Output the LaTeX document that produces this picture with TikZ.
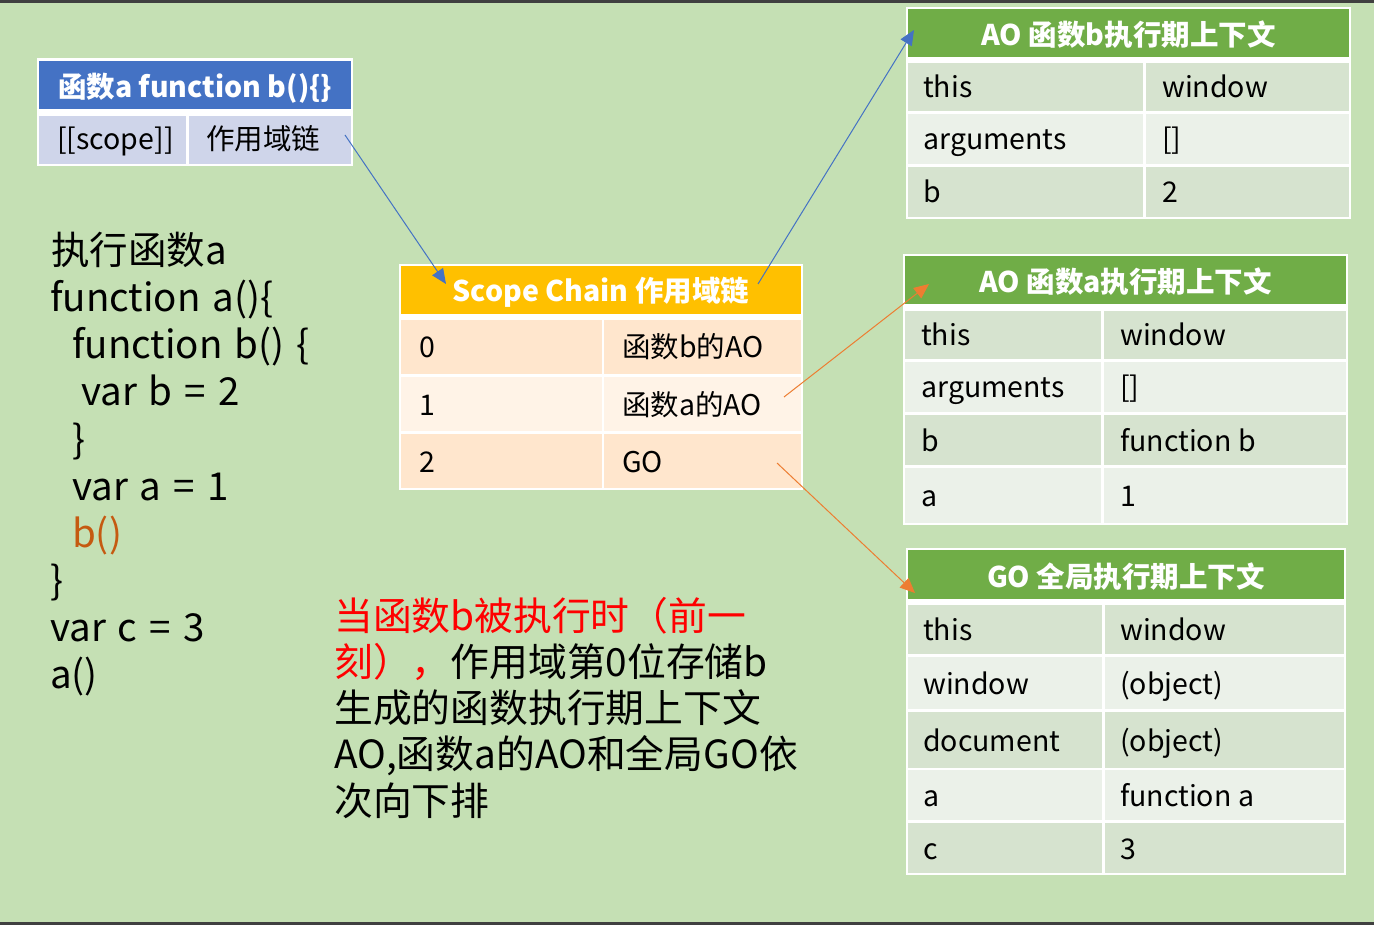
\documentclass[tikz,border=0pt]{standalone}
\usepackage{fontspec}
\setmainfont{Noto Sans CJK SC}
\usetikzlibrary{arrows.meta}
\definecolor{bg}{HTML}{C5E0B4}
\definecolor{frame}{HTML}{404040}
\definecolor{hdrblue}{HTML}{4472C4}
\definecolor{rowblue}{HTML}{CFD5EA}
\definecolor{hdryel}{HTML}{FFC000}
\definecolor{yd}{HTML}{FFE6CD}
\definecolor{yl}{HTML}{FFF3E7}
\definecolor{hdrgreen}{HTML}{70AD47}
\definecolor{gd}{HTML}{D6E3CF}
\definecolor{gl}{HTML}{EBF1E9}
\definecolor{arrblue}{HTML}{4472C4}
\definecolor{arrorange}{HTML}{ED7D31}
\definecolor{codeorange}{HTML}{C55A11}
\newcommand\mycell[6]{\node[cellbox,fill=#6,minimum width={(#4-#2)*1pt},minimum height={(#5-#3)*1pt},anchor=north west] (#1) at (#2,#3) {};}
\newcommand\trow[6]{%
  \mycell{#1a}{\xa}{#2}{\xb}{#3}{#4}
  \mycell{#1b}{\xc}{#2}{\xd}{#3}{#4}
  \node[ctext,anchor=base west] (#1at) at ([xshift=\padA,yshift=-11pt]#1a.west) {#5};
  \node[ctext,anchor=base west] (#1bt) at ([xshift=\padB,yshift=-11pt]#1b.west) {#6};}
\tikzset{
  cellbox/.style={rectangle,inner sep=0pt,outer sep=0pt,draw=none},
  ctext/.style={inner sep=0pt,font=\fontsize{28.5}{34}\selectfont,text=black},
  head/.style={inner sep=0pt,font=\fontsize{28.5}{34}\selectfont\bfseries,text=white},
  code/.style={inner sep=0pt,font={\fontsize{38.5}{47}\selectfont\spaceskip=12pt plus 2pt\relax},text=black,anchor=base west},
  para/.style={inner sep=0pt,font=\fontsize{38.8}{47}\selectfont,text=black,anchor=base west},
  conn/.style={line width=1pt},
  blueconn/.style={conn,draw=arrblue,-{Triangle[length=15pt,width=13pt,fill=arrblue]}},
  orangeconn/.style={conn,draw=arrorange,-{Triangle[length=15pt,width=13pt,fill=arrorange]}}
}
\begin{document}
\begin{tikzpicture}[x=1pt,y=-1pt]
\useasboundingbox (0,0) rectangle (1374,925);
\fill[bg] (0,0) rectangle (1374,925);
\fill[frame] (0,0) rectangle (1374,3);
\fill[frame] (0,922) rectangle (1374,925);

% ---- table 1 : function a [[scope]]
\mycell{t1}{37}{58}{353}{166}{white}
\mycell{t1h}{39}{61}{351}{109}{hdrblue}
\node[head,anchor=base west] (t1ht) at ([xshift=19pt,yshift=-13pt]t1h.west) {函数a function b()\{\}};
\mycell{t1a}{39}{116}{186}{164}{rowblue}
\mycell{t1b}{189}{116}{351}{164}{rowblue}
\node[ctext,anchor=base west] (t1at) at ([xshift=18pt,yshift=-10pt]t1a.west) {[[scope]]};
\node[ctext,anchor=base west] (t1bt) at ([xshift=17pt,yshift=-10pt]t1b.west) {作用域链};

% ---- table 2 : scope chain
\mycell{t2}{399}{264}{803}{490}{white}
\mycell{t2h}{401}{266}{801}{314}{hdryel}
\node[head,anchor=base] (t2ht) at ([yshift=-12pt]t2h.center) {Scope Chain 作用域链};
\def\xa{401}\def\xb{602}\def\xc{604}\def\xd{801}
\def\padA{18pt}\def\padB{18pt}
\trow{t2r0}{320}{374}{yd}{0}{函数b的AO}
\trow{t2r1}{377}{431}{yl}{1}{函数a的AO}
\trow{t2r2}{434}{488}{yd}{2}{GO}

% ---- table 3 : AO b
\mycell{t3}{906}{7}{1351}{219}{white}
\mycell{t3h}{908}{9}{1349}{57}{hdrgreen}
\node[head,anchor=base] (t3ht) at ([yshift=-13pt]t3h.center) {AO 函数b执行期上下文};
\def\xa{908}\def\xb{1143}\def\xc{1146}\def\xd{1349}
\def\padA{15pt}\def\padB{16pt}
\trow{t3r0}{63}{111}{gd}{this}{window}
\trow{t3r1}{114}{164}{gl}{arguments}{[]}
\trow{t3r2}{167}{217}{gd}{b}{2}

% ---- table 4 : AO a
\mycell{t4}{903}{254}{1348}{525}{white}
\mycell{t4h}{905}{256}{1346}{304}{hdrgreen}
\node[head,anchor=base] (t4ht) at ([yshift=-13pt]t4h.center) {AO 函数a执行期上下文};
\def\xa{905}\def\xb{1101}\def\xc{1104}\def\xd{1346}
\def\padA{16pt}\def\padB{16pt}
\trow{t4r0}{311}{359}{gd}{this}{window}
\trow{t4r1}{362}{412}{gl}{arguments}{[]}
\trow{t4r2}{415}{465}{gd}{b}{function b}
\trow{t4r3}{468}{523}{gl}{a}{1}

% ---- table 5 : GO
\mycell{t5}{906}{548}{1346}{875}{white}
\mycell{t5h}{908}{550}{1344}{599}{hdrgreen}
\node[head,anchor=base] (t5ht) at ([yshift=-13pt]t5h.center) {GO 全局执行期上下文};
\def\xa{908}\def\xb{1102}\def\xc{1105}\def\xd{1344}
\def\padA{15pt}\def\padB{15pt}
\trow{t5r0}{605}{654}{gd}{this}{window}
\trow{t5r1}{657}{709}{gl}{window}{(object)}
\trow{t5r2}{712}{768}{gd}{document}{(object)}
\trow{t5r3}{770}{820}{gl}{a}{function a}
\trow{t5r4}{823}{873}{gd}{c}{3}

% ---- code
\node[code] (c1) at (51,265) {执行函数a};
\node[code] (c2) at (50,312) {function a()\{};
\node[code] (c3) at (72,359) {function b() \{};
\node[code] (c4) at (81,406) {var b = 2};
\node[code] (c5) at (72,453) {\}};
\node[code] (c6) at (72,500) {var a = 1};
\node[code,text=codeorange] (c7) at (72,547) {b()};
\node[code] (c8) at (50,594) {\}};
\node[code] (c9) at (50,641) {var c = 3};
\node[code] (c10) at (50,688) {a()};

% ---- explanation
\node[para,text=red] (p1) at (334,630) {当函数b被执行时（前一};
\node[para] (p2) at (334,676) {\textcolor{red}{刻），}作用域第0位存储b};
\node[para] (p3) at (334,722) {生成的函数执行期上下文};
\node[para] (p4) at (334,768) {AO,函数a的AO和全局GO依};
\node[para] (p5) at (334,815) {次向下排};

% ---- connectors
\coordinate (a1s) at (345,135);
\coordinate (a1e) at (446,284);
\coordinate (a2s) at (758,284);
\coordinate (a2e) at (914,30);
\coordinate (a3s) at (784,397);
\coordinate (a3e) at (929,284);
\coordinate (a4s) at (777,463);
\coordinate (a4e) at (915,593);
\draw[blueconn] (a1s) -- (a1e);
\draw[blueconn] (a2s) -- (a2e);
\draw[orangeconn] (a3s) -- (a3e);
\draw[orangeconn] (a4s) -- (a4e);
\end{tikzpicture}
\end{document}
